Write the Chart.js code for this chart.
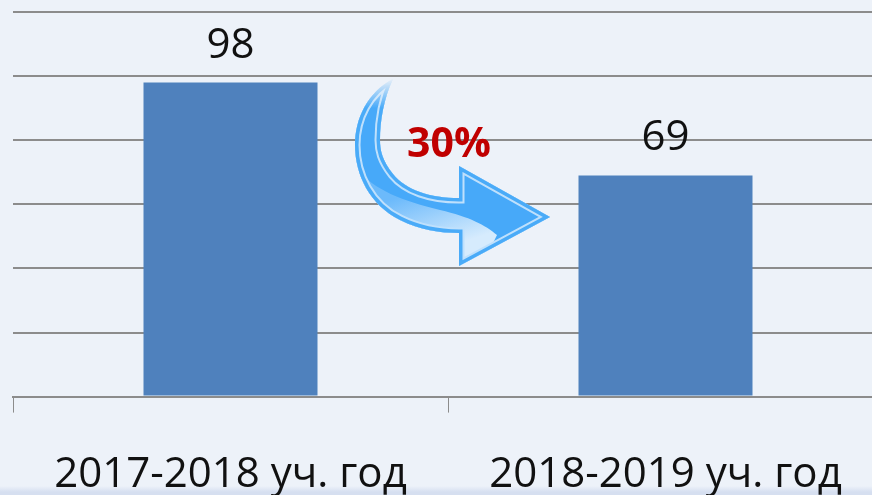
<!DOCTYPE html>
<html>
<head>
<meta charset="utf-8">
<script src="https://cdn.jsdelivr.net/npm/chart.js@4"></script>
<style>
html, body { margin: 0; padding: 0; width: 872px; height: 495px; overflow: hidden; }
body { background: linear-gradient(to bottom, #edf2f9 0, #edf2f9 486px, #d6dff0 492px, #d6dff0 495px); }
canvas { display: block; }
</style>
</head>
<body>
<canvas id="chart" width="900" height="537" style="width:900px;height:537px"></canvas>
<script>
const categories = ['2017-2018 уч. год', '2018-2019 уч. год'];
const values = [98, 69];
const changeLabel = '30%';
const axisMax = 120;
const axisStep = 20;

// outline of the curved arrow, in page pixels
function arrowPath(ctx) {
    ctx.beginPath();
    ctx.moveTo(393, 79);
    ctx.bezierCurveTo(368, 92, 355, 118, 355, 145);
    ctx.bezierCurveTo(355, 175, 370, 205, 400, 220);
    ctx.bezierCurveTo(420, 230, 440, 233, 459, 233);
    ctx.lineTo(459, 266);
    ctx.lineTo(550, 217);
    ctx.lineTo(459, 166);
    ctx.lineTo(459, 198);
    ctx.bezierCurveTo(430, 198, 406, 190, 393, 174);
    ctx.bezierCurveTo(382, 160, 380, 150, 380, 140);
    ctx.bezierCurveTo(380, 120, 384, 98, 393, 79);
    ctx.closePath();
}

const arrowPlugin = {
    id: 'arrow',
    afterDatasetsDraw(chart) {
        const layer = document.createElement('canvas');
        layer.width = chart.width;
        layer.height = chart.height;
        const c = layer.getContext('2d');
        arrowPath(c);
        c.fillStyle = '#47a9f9';
        c.fill();
        c.save();
        c.clip();
        // lighter lower part
        const shine = c.createLinearGradient(405, 195, 425, 255);
        shine.addColorStop(0, '#6cbafb');
        shine.addColorStop(1, '#d6ebfd');
        c.beginPath();
        c.moveTo(350, 160);
        c.bezierCurveTo(370, 190, 400, 200, 440, 210);
        c.bezierCurveTo(470, 217, 485, 225, 497, 235);
        c.lineTo(470, 290);
        c.lineTo(350, 290);
        c.closePath();
        c.fillStyle = shine;
        c.fill();
        // light band just inside the edge
        arrowPath(c);
        c.lineJoin = 'miter';
        c.strokeStyle = '#bfe0fc';
        c.lineWidth = 11;
        c.stroke();
        c.strokeStyle = '#4aabf8';
        c.lineWidth = 7;
        c.stroke();
        c.restore();
        // fade out the tail
        const fade = c.createLinearGradient(0, 78, 0, 108);
        fade.addColorStop(0, 'rgba(0,0,0,1)');
        fade.addColorStop(1, 'rgba(0,0,0,0)');
        c.globalCompositeOperation = 'destination-out';
        c.fillStyle = fade;
        c.fillRect(340, 70, 70, 38);

        const ctx = chart.ctx;
        ctx.save();
        ctx.drawImage(layer, 0, 0);
        ctx.fillStyle = '#c00000';
        ctx.font = 'bold 41px "Open Sans"';
        ctx.textAlign = 'center';
        ctx.textBaseline = 'alphabetic';
        ctx.fillText(changeLabel, 449, 157);
        ctx.restore();
    }
};

// value above each bar
const valueLabels = {
    id: 'valueLabels',
    afterDatasetsDraw(chart) {
        const ctx = chart.ctx;
        ctx.save();
        ctx.fillStyle = '#111111';
        ctx.font = '42px "Open Sans"';
        ctx.textAlign = 'center';
        ctx.textBaseline = 'alphabetic';
        chart.getDatasetMeta(0).data.forEach((bar, i) => {
            ctx.fillText(String(values[i]), bar.x, bar.y - 25);
        });
        ctx.restore();
    }
};

new Chart(document.getElementById('chart').getContext('2d'), {
    type: 'bar',
    data: {
        labels: categories,
        datasets: [{
            data: values,
            backgroundColor: '#4f81bd',
            barPercentage: 0.8,
            categoryPercentage: 0.5
        }]
    },
    plugins: [valueLabels, arrowPlugin],
    options: {
        responsive: false,
        animation: false,
        layout: { padding: { left: 13, right: 17, top: 12, bottom: 0 } },
        plugins: { legend: { display: false }, tooltip: { enabled: false } },
        scales: {
            x: {
                grid: { drawOnChartArea: false, drawTicks: true, tickLength: 16, color: '#8c8c8c', lineWidth: 1 },
                border: { color: '#8c8c8c', width: 2 },
                ticks: { color: '#111111', font: { family: '"Open Sans"', size: 42 }, padding: 37, maxRotation: 0 }
            },
            y: {
                min: 0,
                max: axisMax,
                ticks: { display: false, stepSize: axisStep },
                grid: { color: '#8c8c8c', lineWidth: 2, drawTicks: false },
                border: { display: false }
            }
        }
    }
});
</script>
</body>
</html>
